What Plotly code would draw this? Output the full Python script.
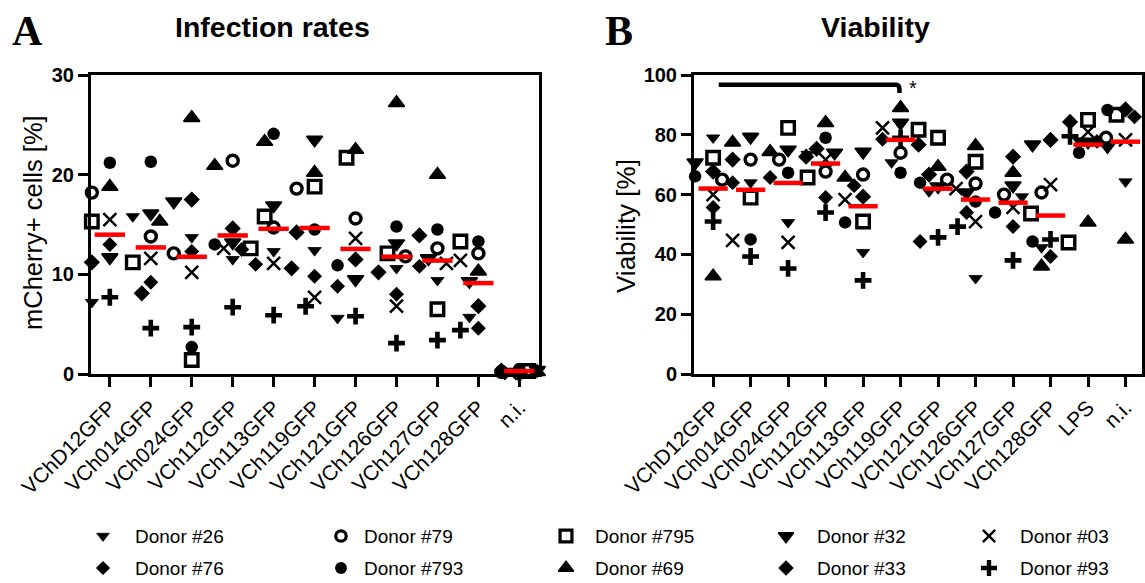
import numpy as np
import plotly.graph_objects as go

W, H = 1145, 583

# ---------------- data ----------------
cats_A = ["VChD12GFP", "VCh014GFP", "VCh024GFP", "VCh112GFP", "VCh113GFP", "VCh119GFP",
          "VCh121GFP", "VCh126GFP", "VCh127GFP", "VCh128GFP", "n.i."]
cats_B = ["VChD12GFP", "VCh014GFP", "VCh024GFP", "VCh112GFP", "VCh113GFP", "VCh119GFP",
          "VCh121GFP", "VCh126GFP", "VCh127GFP", "VCh128GFP", "LPS", "n.i."]

donors = ["Donor #26", "Donor #76", "Donor #79", "Donor #793", "Donor #795",
          "Donor #69", "Donor #32", "Donor #33", "Donor #03", "Donor #93"]

# Infection rates (mCherry+ cells, %)
inf_d26 = [7.2, 15.8, 13.7, 11.5, 12.3, 12.4, 5.6, 10.6, 9.4, 5.7, 0.3]
inf_d76 = [13.0, 9.2, 12.3, 12.5, 11.0, 9.8, 8.8, 8.0, 10.8, 4.6, 0.4]
inf_d79 = [18.2, 13.8, 12.1, 21.4, 14.7, 18.6, 15.6, 11.8, 12.6, 12.1, 0.2]
inf_d793 = [21.2, 21.3, 2.7, 13.0, 24.1, 14.5, 10.9, 14.8, 14.5, 13.3, 0.5]
inf_d795 = [15.3, 11.2, 1.4, 12.6, 15.8, 18.8, 21.7, 12.1, 6.5, 13.3, 0.3]
inf_d69 = [18.8, 15.3, 25.7, 20.9, 23.3, 20.2, 22.5, 27.2, 20.0, 10.3, 0.2]
inf_d32 = [11.7, 16.1, 17.3, 13.2, 16.9, 23.5, 9.5, 13.1, 11.6, 9.3, 0.4]
inf_d33 = [11.2, 8.1, 17.5, 14.6, 10.6, 14.2, 11.5, 10.2, 13.9, 6.8, 0.3]
inf_d03 = [15.5, 11.6, 10.2, 12.6, 11.1, 7.7, 13.6, 6.8, 11.1, 11.4, 0.1]
inf_d93 = [7.7, 4.6, 4.7, 6.7, 5.9, 6.8, 5.8, 3.1, 3.4, 4.4, 0.2]

# Viability (%)
via_d26 = [79.0, 64.0, 50.7, 73.5, 40.7, 70.7, 61.0, 32.0, 59.3, 42.3, 78.0, 64.3]
via_d76 = [55.7, 64.0, 65.7, 59.0, 63.0, 78.5, 44.3, 54.0, 49.3, 39.3, 77.8, 86.0]
via_d79 = [65.0, 71.7, 71.7, 67.7, 66.7, 74.0, 65.0, 63.7, 60.0, 60.7, 79.0, 87.7]
via_d793 = [66.1, 45.0, 67.3, 79.0, 50.7, 67.3, 64.0, 57.7, 54.0, 44.3, 74.0, 88.3]
via_d795 = [72.3, 59.0, 82.3, 65.7, 51.0, 81.7, 79.0, 71.0, 53.7, 44.0, 85.0, 86.7]
via_d69 = [32.7, 77.4, 74.3, 84.0, 65.7, 89.0, 69.3, 76.3, 67.3, 36.0, 50.7, 45.0]
via_d32 = [70.7, 79.3, 75.0, 74.0, 74.3, 84.0, 62.7, 60.7, 63.0, 76.7, 77.7, 76.2]
via_d33 = [67.7, 71.7, 72.7, 75.3, 59.3, 76.7, 66.7, 67.7, 72.7, 78.3, 84.3, 88.5]
via_d03 = [60.0, 44.7, 44.0, 71.7, 58.3, 82.3, 62.0, 51.0, 55.7, 63.3, 81.0, 78.3]
via_d93 = [51.0, 39.3, 35.3, 54.0, 31.3, 79.0, 45.7, 49.3, 38.0, 45.0, 79.5, 76.0]

inf_all = [inf_d26, inf_d76, inf_d79, inf_d793, inf_d795, inf_d69, inf_d32, inf_d33, inf_d03, inf_d93]
via_all = [via_d26, via_d76, via_d79, via_d793, via_d795, via_d69, via_d32, via_d33, via_d03, via_d93]

# ---------------- styles ----------------
styles = [
    dict(symbol="triangle-down", size=11.5, lw=0.8),
    dict(symbol="diamond", size=11.5, lw=0),
    dict(symbol="circle-open", size=11, lw=3.4),
    dict(symbol="circle", size=12.5, lw=0),
    dict(symbol="square-open", size=12.5, lw=3.4),
    dict(symbol="triangle-up", size=14, lw=1.6),
    dict(symbol="triangle-down", size=14, lw=1.6),
    dict(symbol="diamond", size=12.5, lw=0),
    dict(symbol="x-thin-open", size=13, lw=2.5),
    dict(symbol="cross-thin-open", size=12, lw=4.6),
]


def marker(st, scale=1.0):
    return dict(color="black", symbol=st["symbol"], size=st["size"] * scale,
                line=dict(width=st["lw"] * (scale if scale < 1 else 1), color="black"))


# geometry (pixels)
TOP, BOT = 75, 374
A_L, A_R = 91, 539
B_L, B_R = 694, 1142
A_range = [-0.46, 10.48]
B_range = [-0.51, 11.44]
A_y = [0, 30]
B_y = [0, 100]


def swarm(vals, ppu, ppc, step=9.0, dist=11.5, max_k=2):
    """simple beeswarm: horizontal offsets (in category units) to separate markers"""
    order = sorted(range(len(vals)), key=lambda i: -vals[i])
    placed = []
    offs = [0.0] * len(vals)
    ks = [0]
    for k in range(1, max_k + 1):
        ks += [-k, k]
    for i in order:
        y = vals[i] * ppu
        best, bestd = 0.0, -1
        for k in ks:
            x = k * step
            dmin = min([np.hypot(x - px, y - py) for px, py in placed] + [1e9])
            if dmin >= dist:
                best = x
                break
            if dmin > bestd:
                best, bestd = x, dmin
        placed.append((best, y))
        offs[i] = best / ppc
    return offs


fig = go.Figure()
ydom = [1 - BOT / H, 1 - TOP / H]


def add_panel(data, cats, xa, ya, xr, yr, L, R, half):
    ncat = len(cats)
    ppc = (R - L) / (xr[1] - xr[0])
    ppu = (BOT - TOP) / (yr[1] - yr[0])
    xs = [[0.0] * ncat for _ in data]
    for c in range(ncat):
        vals = [d[c] for d in data]
        offs = swarm(vals, ppu, ppc)
        for j in range(len(data)):
            xs[j][c] = c + offs[j]
    for j, d in enumerate(data):
        fig.add_trace(go.Scatter(
            x=xs[j], y=d, mode="markers", xaxis=xa, yaxis=ya, showlegend=False,
            cliponaxis=False, name=donors[j], marker=marker(styles[j])))
    means = np.mean(np.array(data), axis=0)
    mx, my = [], []
    for c in range(ncat):
        mx += [c - half, c + half, None]
        my += [means[c], means[c], None]
    fig.add_trace(go.Scatter(x=mx, y=my, mode="lines", xaxis=xa, yaxis=ya, showlegend=False,
                             cliponaxis=False, line=dict(color="#ff0000", width=4.5)))


add_panel(inf_all, cats_A, "x", "y", A_range, A_y, A_L, A_R, 0.37)
add_panel(via_all, cats_B, "x2", "y2", B_range, B_y, B_L, B_R, 0.39)

FONT = "Liberation Sans, Arial"
axis_common = dict(showline=True, linecolor="black", linewidth=3, mirror=True,
                   ticks="outside", ticklen=10, tickwidth=3, tickcolor="black",
                   showgrid=False, zeroline=False, automargin=False)
xfont = dict(family=FONT, size=21, color="black")
yfont = dict(family=FONT, size=20, color="black", weight="bold")

fig.update_layout(
    template="none",
    width=W, height=H, margin=dict(l=0, r=0, t=0, b=0, pad=0),
    paper_bgcolor="white", plot_bgcolor="rgba(0,0,0,0)", showlegend=False,
    xaxis=dict(domain=[A_L / W, A_R / W], range=A_range, anchor="y",
               tickmode="array", tickvals=list(range(len(cats_A))), ticktext=cats_A,
               tickangle=-45, tickfont=xfont, **axis_common),
    yaxis=dict(domain=ydom, range=A_y, anchor="x", tickmode="array",
               tickvals=[0, 10, 20, 30], tickfont=yfont, **axis_common),
    xaxis2=dict(domain=[B_L / W, B_R / W], range=B_range, anchor="y2",
                tickmode="array", tickvals=list(range(len(cats_B))), ticktext=cats_B,
                tickangle=-45, tickfont=xfont, **axis_common),
    yaxis2=dict(domain=ydom, range=B_y, anchor="x2", tickmode="array",
                tickvals=[0, 20, 40, 60, 80, 100], tickfont=yfont, **axis_common),
    xaxis3=dict(domain=[0, 1], range=[0, W], visible=False, anchor="y3",
                fixedrange=True, automargin=False),
    yaxis3=dict(domain=[0, 1], range=[H, 0], visible=False, anchor="x3",
                fixedrange=True, automargin=False),
)

# significance bracket (VChD12GFP vs VCh119GFP)
fig.add_shape(type="path", xref="x2", yref="y2",
              path="M 0.15 96.7 L 4.88 96.7 Q 4.97 96.7 4.97 95.2 L 4.97 94.0",
              line=dict(color="black", width=4.5))
fig.add_annotation(x=5.33, y=95.6, xref="x2", yref="y2", text="*", showarrow=False,
                   font=dict(family=FONT, size=20, color="black"))

# titles & labels
txt = dict(family=FONT, color="black")
fig.add_annotation(x=272, y=27, xref="x3", yref="y3", text="<b>Infection rates</b>",
                   showarrow=False, font=dict(size=28.5, **txt))
fig.add_annotation(x=875, y=27, xref="x3", yref="y3", text="<b>Viability</b>",
                   showarrow=False, font=dict(size=28.5, **txt))
fig.add_annotation(x=27, y=31, xref="x3", yref="y3", text="<b>A</b>", showarrow=False,
                   font=dict(family="Liberation Serif, Times New Roman", size=42, color="black"))
fig.add_annotation(x=619, y=31, xref="x3", yref="y3", text="<b>B</b>", showarrow=False,
                   font=dict(family="Liberation Serif, Times New Roman", size=42, color="black"))
fig.add_annotation(x=33, y=223, xref="x3", yref="y3", text="mCherry+ cells [%]",
                   textangle=-90, showarrow=False, font=dict(size=25.5, **txt))
fig.add_annotation(x=626, y=226, xref="x3", yref="y3", text="Viability [%]",
                   textangle=-90, showarrow=False, font=dict(size=26, **txt))

# custom legend (5 columns x 2 rows)
leg_sym_x = [103, 341, 566, 786, 989]
leg_txt_x = [133, 362, 593, 815, 1018]
leg_row_y = [536, 568]
for j, name in enumerate(donors):
    col, row = j // 2, j % 2
    fig.add_trace(go.Scatter(
        x=[leg_sym_x[col]], y=[leg_row_y[row]], mode="markers", xaxis="x3", yaxis="y3",
        showlegend=False, cliponaxis=False, marker=marker(styles[j], 0.95)))
    fig.add_annotation(x=leg_txt_x[col], y=leg_row_y[row], xref="x3", yref="y3", text=name,
                       xanchor="left", showarrow=False, font=dict(size=19, **txt))

fig.write_html("out.html")
